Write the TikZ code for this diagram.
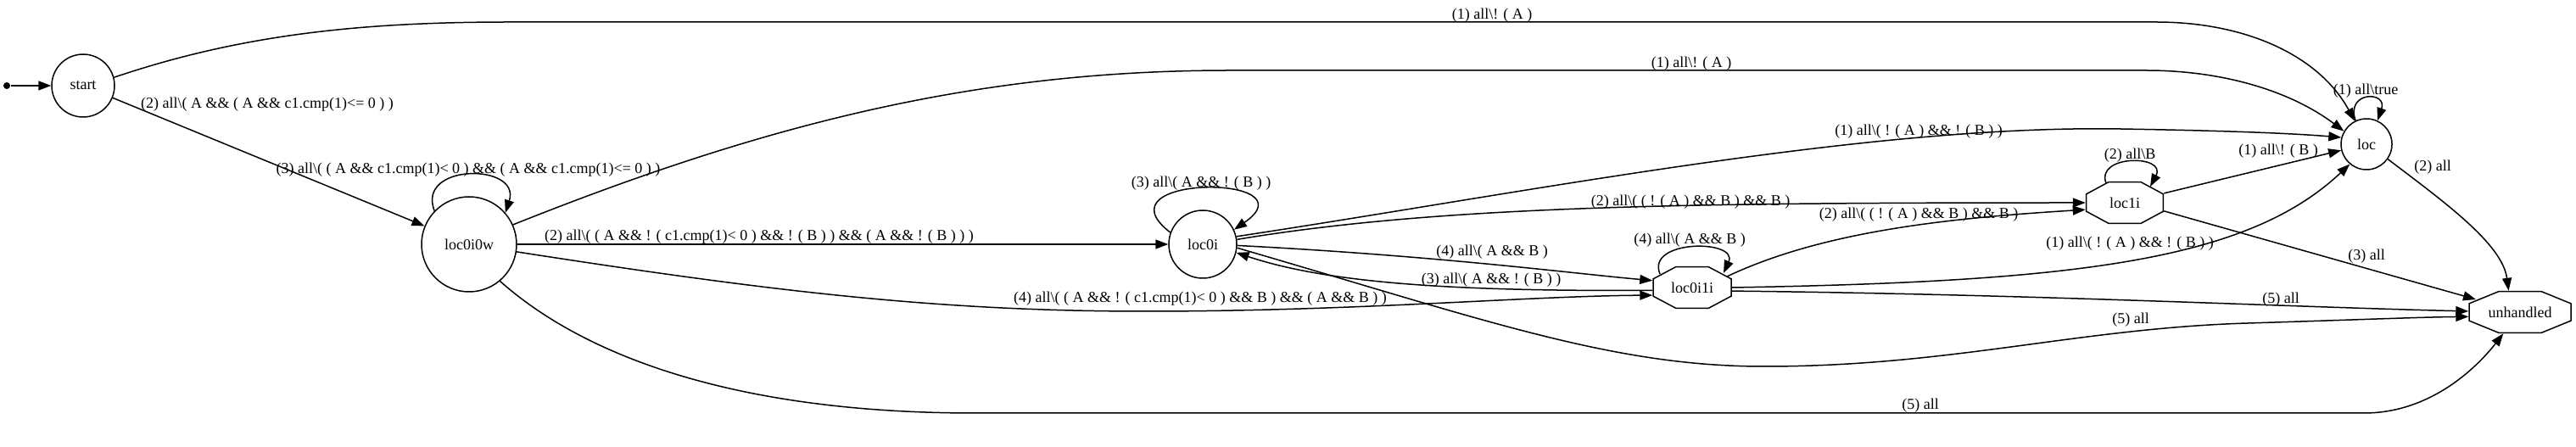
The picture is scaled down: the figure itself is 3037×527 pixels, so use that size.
\documentclass[tikz,border=0pt]{standalone}
\usepackage{fontspec}
\setmainfont{Liberation Serif}
\usetikzlibrary{arrows.meta}
\newcommand{\gsep}{\textbackslash}
% octagon outline round a named box: node, x radius, y radius
\newcommand{\octagon}[3]{%
  \draw ([shift={(22.5:#2 and #3)}]#1.center)
    \foreach \a in {67.5,112.5,...,337.5} {-- ([shift={(\a:#2 and #3)}]#1.center)} -- cycle;}

\begin{document}
\begin{tikzpicture}[
  x=1pt, y=1pt, line width=1.5pt,
  font=\fontsize{18}{21}\selectfont,
  init/.style={circle, fill=black, inner sep=0pt, minimum size=8pt},
  state/.style={circle, draw, inner sep=0pt, minimum size=#1},
  octbox/.style={rectangle, inner sep=0pt, minimum width=#1, minimum height=49pt},
  lbl/.style={inner sep=0pt},
  arr/.style={-{Triangle[length=15pt, width=11pt]}}
]
  \useasboundingbox (0,0) rectangle (3037,527);

  % States
  \node[init] (init) at (8,426) {};
  \node[state=74pt] (start) at (98,426) {start};
  \node[state=112pt] (loc0i0w) at (553,239) {loc0i0w};
  \node[state=80pt] (loc0i) at (1418,239) {loc0i};
  \node[octbox=92pt] (loc0i1i) at (1995,188) {loc0i1i};
  \node[octbox=91pt] (loc1i) at (2505,288) {loc1i};
  \node[state=60pt] (loc) at (2790,357) {loc};
  \node[octbox=120pt] (unhandled) at (2971,159) {unhandled};
  \octagon{loc0i1i}{49.8}{26.5}
  \octagon{loc1i}{49.2}{26.5}
  \octagon{unhandled}{64.9}{26.5}

  % Entry and start
  \draw[arr] (init) -- (start);
  \draw[arr] (start.15) .. controls (280,485) and (420,501) .. (600,501)
    -- (2542,501) .. controls (2650,501) and (2735,460) .. (loc.117);
  \draw[arr] (start) -- (loc0i0w);

  % From loc0i0w
  \draw[arr] (loc0i0w.136) .. controls (490,335) and (615,335) .. (loc0i0w.41);
  \draw[arr] (loc0i0w.24) .. controls (900,380) and (1150,444) .. (1450,444)
    -- (2530,444) .. controls (2620,444) and (2700,420) .. (loc.150);
  \draw[arr] (loc0i0w) -- (loc0i);
  \draw[arr] (loc0i0w.-9) .. controls (900,185) and (1100,160) .. (1350,160)
    .. controls (1600,160) and (1800,178) .. (loc0i1i.191);
  \draw[arr] (loc0i0w.-50) .. controls (680,115) and (850,40) .. (1150,40)
    -- (2787,40) .. controls (2870,40) and (2925,100) .. (unhandled.-128);

  % From loc0i
  \draw[arr] (loc0i.160) .. controls (1290,322) and (1550,322) .. (loc0i.25);
  \draw[arr] (loc0i.13) .. controls (1800,300) and (2200,380) .. (2500,375)
    .. controls (2620,373) and (2700,370) .. (loc.165);
  \draw[arr] (loc0i.8) .. controls (1700,285) and (2000,288) .. (loc1i.west);
  \draw[arr] (loc0i.-2) .. controls (1700,225) and (1850,205) .. (loc0i1i.170);
  \draw[arr] (loc0i.-6) .. controls (1750,150) and (1900,95) .. (2080,95)
    .. controls (2300,95) and (2450,140) .. (2650,146)
    .. controls (2780,150) and (2850,153) .. (unhandled.185);

  % From loc0i1i
  \draw[arr] (loc0i1i.184) .. controls (1700,183) and (1560,195) .. (loc0i.-14);
  \draw[arr] ([shift={(-38,16)}]loc0i1i.center) .. controls (1940,245) and (2050,245)
    .. ([shift={(37,17)}]loc0i1i.center);
  \draw[arr] ([shift={(41,13)}]loc0i1i.center) .. controls (2150,255) and (2300,270) .. (loc1i.190);
  \draw[arr] (loc0i1i.east) .. controls (2450,195) and (2650,220) .. (loc.-130);
  \draw[arr] (loc0i1i.-5) .. controls (2400,180) and (2700,165) .. (unhandled.179);

  % From loc1i and loc
  \draw[arr] ([shift={(-22,23)}]loc1i.center) .. controls (2470,345) and (2555,345)
    .. ([shift={(30,19)}]loc1i.center);
  \draw[arr] (loc1i) -- (loc);
  \draw[arr] (loc1i.-12) -- ([shift={(-52,15)}]unhandled.center);
  \draw[arr] (loc.115) .. controls (2765,420) and (2815,420) .. (loc.65);
  \draw[arr] (loc.-35) .. controls (2880,290) and (2950,240) .. (unhandled.118);

  % Guards
  \node[lbl] (g1) at (1759,509) {(1) all\gsep! ( A )};
  \node[lbl] (g2) at (315,404) {(2) all\gsep( A \&\& ( A \&\& c1.cmp(1)<= 0 ) )};
  \node[lbl] (g3) at (552,327) {(3) all\gsep( ( A \&\& c1.cmp(1)< 0 ) \&\& ( A \&\& c1.cmp(1)<= 0 ) )};
  \node[lbl] (g4) at (1994,452) {(1) all\gsep! ( A )};
  \node[lbl] (g5) at (895,248) {(2) all\gsep( ( A \&\& ! ( c1.cmp(1)< 0 ) \&\& ! ( B ) ) \&\& ( A \&\& ! ( B ) ) )};
  \node[lbl] (g6) at (1415,175) {(4) all\gsep( ( A \&\& ! ( c1.cmp(1)< 0 ) \&\& B ) \&\& ( A \&\& B ) )};
  \node[lbl] (g7) at (2264,49) {(5) all};
  \node[lbl] (g8) at (1416,311) {(3) all\gsep( A \&\& ! ( B ) )};
  \node[lbl] (g9) at (2262,372) {(1) all\gsep( ! ( A ) \&\& ! ( B ) )};
  \node[lbl] (g10) at (1993,289) {(2) all\gsep( ( ! ( A ) \&\& B ) \&\& B )};
  \node[lbl] (g11) at (1759,230) {(4) all\gsep( A \&\& B )};
  \node[lbl] (g12) at (1758,197) {(3) all\gsep( A \&\& ! ( B ) )};
  \node[lbl] (g13) at (2512,150) {(5) all};
  \node[lbl] (g14) at (1992,244) {(4) all\gsep( A \&\& B )};
  \node[lbl] (g15) at (2262,274) {(2) all\gsep( ( ! ( A ) \&\& B ) \&\& B )};
  \node[lbl] (g16) at (2511,240) {(1) all\gsep( ! ( A ) \&\& ! ( B ) )};
  \node[lbl] (g17) at (2689,174) {(5) all};
  \node[lbl] (g18) at (2511,344) {(2) all\gsep B};
  \node[lbl] (g19) at (2686,349) {(1) all\gsep! ( B )};
  \node[lbl] (g20) at (2790,225) {(3) all};
  \node[lbl] (g21) at (2789,420) {(1) all\gsep true};
  \node[lbl] (g22) at (2868,330) {(2) all};
\end{tikzpicture}
\end{document}
